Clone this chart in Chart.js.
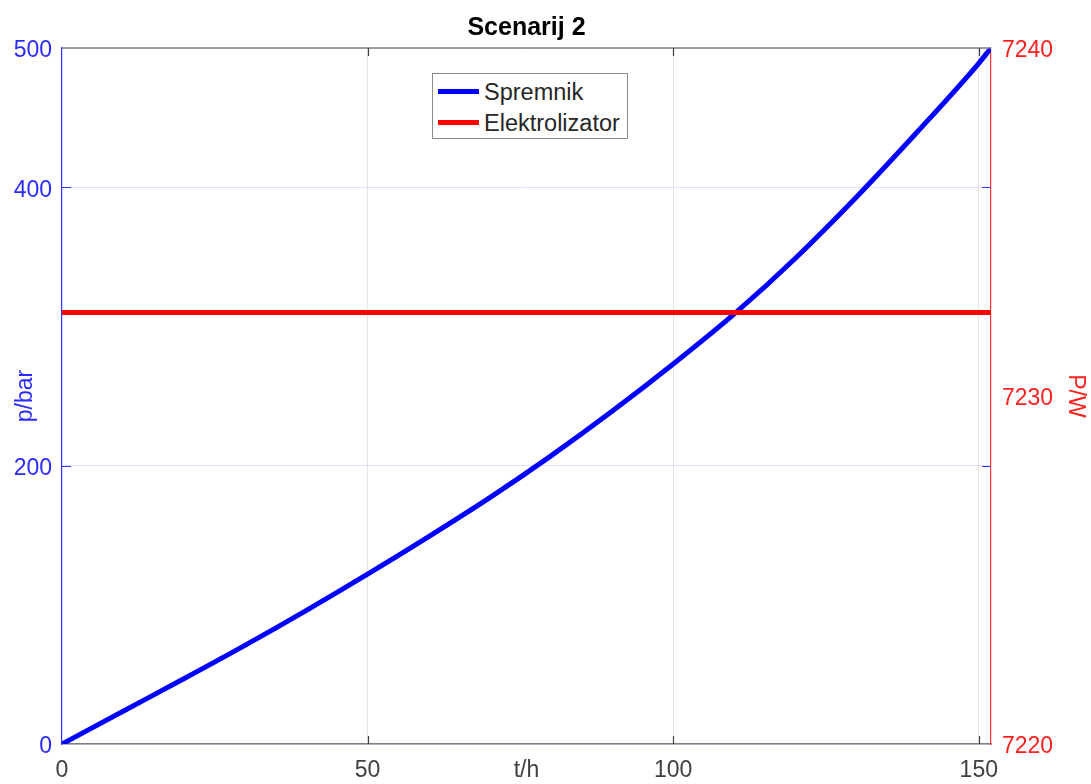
<!DOCTYPE html>
<html>
<head>
<meta charset="utf-8">
<script src="https://cdn.jsdelivr.net/npm/chart.js@4/dist/chart.umd.min.js"></script>
<style>
    body { margin: 0; background: #fff; }
    #wrap { position: relative; width: 1091px; height: 784px; }
    #legend {
        position: absolute; left: 432px; top: 73px; width: 194px; height: 64px;
        border: 1px solid #8c8c8c; background: #fff;
        font-family: "Liberation Sans", Arial, sans-serif; font-size: 23.5px; color: #262626;
    }
    #legend .row { position: absolute; left: 5px; height: 26px; line-height: 26px; white-space: nowrap; }
    #legend .swatch { display: inline-block; width: 41px; height: 5px; vertical-align: middle; margin-right: 5px; position: relative; top: -2px; }
</style>
</head>
<body>
<div id="wrap">
    <canvas id="chart" width="1091" height="784"></canvas>
    <div id="legend">
        <div class="row" style="top:5px"><span class="swatch" style="background:#0000ff"></span>Spremnik</div>
        <div class="row" style="top:36px"><span class="swatch" style="background:#ff0000"></span>Elektrolizator</div>
    </div>
</div>
<script>
// podaci ocitani sa slike
const hours = [0, 10, 20, 30, 40, 50, 60, 70, 80, 90, 100, 110, 120, 130, 140, 150, 152];
const pressure = [0, 23.5, 47, 71, 96, 122, 149, 177, 207, 239, 273, 309, 349, 393, 440, 489, 500];
const powerHours = [0, 152];
const power = [7232.4, 7232.4];

// oznake na osima
const xTicks = [0, 50, 100, 150];
const pTicks = [0, 200, 400, 500];
const powerTicks = [7220, 7230, 7240];

Chart.defaults.font.family = '"Liberation Sans", Arial, sans-serif';

// okvir gore i kratke oznake prema unutra (kao u MATLAB-u)
const frameTicks = {
    id: 'frameTicks',
    afterDraw: function(chart) {
        const ctx = chart.ctx;
        const a = chart.chartArea;
        const sx = chart.scales.x;
        const sy = chart.scales.y;
        ctx.save();
        ctx.lineWidth = 1.5;
        ctx.strokeStyle = '#808080';
        ctx.beginPath();
        ctx.moveTo(a.left, a.top);
        ctx.lineTo(a.right, a.top);
        ctx.stroke();

        ctx.lineWidth = 1.2;
        ctx.strokeStyle = '#404040';
        xTicks.forEach(function(v) {
            if (v === 0) return;
            const px = Math.round(sx.getPixelForValue(v)) + 0.5;
            ctx.beginPath();
            ctx.moveTo(px, a.bottom); ctx.lineTo(px, a.bottom - 8);
            ctx.moveTo(px, a.top); ctx.lineTo(px, a.top + 8);
            ctx.stroke();
        });

        ctx.strokeStyle = '#3333ff';
        pTicks.forEach(function(v) {
            if (v === 0 || v === 500) return;
            const py = Math.round(sy.getPixelForValue(v)) + 0.5;
            ctx.beginPath();
            ctx.moveTo(a.left, py); ctx.lineTo(a.left + 9, py);
            ctx.moveTo(a.right, py); ctx.lineTo(a.right - 9, py);
            ctx.stroke();
        });
        ctx.restore();
    }
};

const ctx = document.getElementById('chart').getContext('2d');
window.scenarioChart = new Chart(ctx, {
    type: 'line',
    data: {
        datasets: [
            {
                label: 'Spremnik',
                data: hours.map(function(t, i) { return { x: t, y: pressure[i] }; }),
                yAxisID: 'y',
                borderColor: '#0000ff',
                borderWidth: 5,
                pointRadius: 0,
                cubicInterpolationMode: 'monotone',
                order: 2
            },
            {
                label: 'Elektrolizator',
                data: powerHours.map(function(t, i) { return { x: t, y: power[i] }; }),
                yAxisID: 'y1',
                borderColor: '#ff0000',
                borderWidth: 5,
                pointRadius: 0,
                order: 1
            }
        ]
    },
    options: {
        responsive: false,
        animation: false,
        layout: { padding: 0 },
        plugins: {
            legend: { display: false },
            tooltip: { enabled: false },
            title: {
                display: true,
                text: 'Scenarij 2',
                fullSize: false,
                color: '#000',
                font: { size: 25, weight: 'bold' },
                padding: { top: 13, bottom: 5 }
            }
        },
        scales: {
            x: {
                type: 'linear',
                position: 'bottom',
                min: 0,
                max: 152,
                afterBuildTicks: function(s) { s.ticks = xTicks.map(function(v) { return { value: v }; }); },
                afterFit: function(s) { s.height = 40; },
                ticks: {
                    color: '#404040',
                    font: { size: 23 },
                    padding: 13,
                    maxRotation: 0,
                    callback: function(v) { return String(v); }
                },
                grid: {
                    drawTicks: false,
                    color: function(c) { return c.tick && c.tick.value === 0 ? 'rgba(0,0,0,0)' : 'rgba(0,0,0,0.1)'; }
                },
                border: { color: '#808080', width: 1.5 },
                title: {
                    display: true,
                    text: 't/h',
                    color: '#404040',
                    font: { size: 23 },
                    padding: { top: 0, bottom: 0 }
                }
            },
            y: {
                type: 'linear',
                position: 'left',
                min: 0,
                max: 500,
                afterBuildTicks: function(s) { s.ticks = pTicks.map(function(v) { return { value: v }; }); },
                afterFit: function(s) { s.width = 62; },
                ticks: {
                    color: '#2b2bff',
                    font: { size: 23 },
                    padding: 10,
                    labelOffset: 3,
                    callback: function(v) { return String(v); }
                },
                grid: {
                    drawTicks: false,
                    color: 'rgba(0,0,255,0.13)'
                },
                border: { color: '#3030ff', width: 1.2 },
                title: {
                    display: true,
                    text: 'p/bar',
                    color: '#2b2bff',
                    font: { size: 23 },
                    padding: { top: 12, bottom: 0 }
                }
            },
            y1: {
                type: 'linear',
                position: 'right',
                min: 7220,
                max: 7240,
                afterBuildTicks: function(s) { s.ticks = powerTicks.map(function(v) { return { value: v }; }); },
                afterFit: function(s) { s.width = 100; },
                ticks: {
                    color: '#ff2020',
                    font: { size: 23 },
                    padding: 11,
                    labelOffset: 3,
                    callback: function(v) { return String(v); }
                },
                grid: { display: false, drawTicks: false },
                border: { color: '#ff3030', width: 1.2 },
                title: {
                    display: true,
                    text: 'P/W',
                    color: '#ff2020',
                    font: { size: 23 },
                    padding: { top: 2, bottom: 0 }
                }
            }
        }
    },
    plugins: [frameTicks]
});
</script>
</body>
</html>
